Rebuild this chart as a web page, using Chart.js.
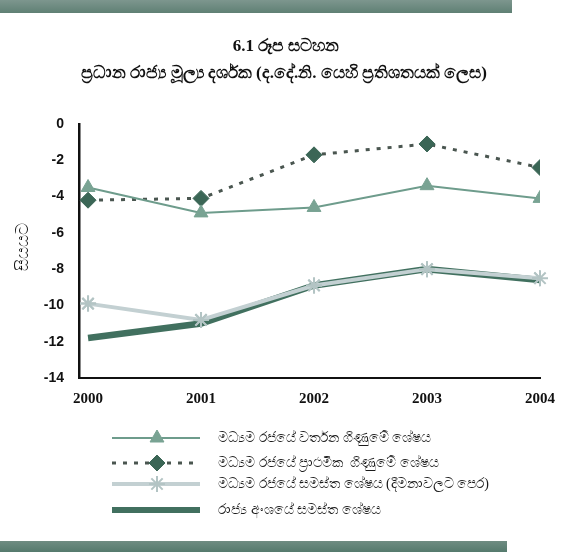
<!DOCTYPE html>
<html>
<head>
<meta charset="utf-8">
<script src="https://cdn.jsdelivr.net/npm/chart.js@4/dist/chart.umd.min.js"></script>
<style>
  html, body { margin: 0; padding: 0; background: #fff; }
  #wrap { width: 570px; height: 554px; position: relative; }
</style>
</head>
<body>
<div id="wrap"><canvas id="c" width="570" height="554"></canvas></div>
<script>
// Fiscal indicators, per cent of GDP
const years = [2000, 2001, 2002, 2003, 2004];
const currentAccount = [-3.5, -4.9, -4.6, -3.4, -4.1];
const primaryBalance = [-4.2, -4.1, -1.7, -1.1, -2.4];
const overallBeforeGrants = [-9.9, -10.8, -8.9, -8.0, -8.5];
const publicSectorOverall = [-11.8, -11.0, -8.9, -8.0, -8.6];
const yTicks = [0, -2, -4, -6, -8, -10, -12, -14];

const titleLine1 = '6.1 රූප සටහන';
const titleLine2 = 'ප්‍රධාන රාජ්‍ය මූල්‍ය දර්ශක (ද.දේ.නි. යෙහි ප්‍රතිශතයක් ලෙස)';
const yTitle = 'සියයට';
const seriesNames = [
  'මධ්‍යම රජයේ වර්තන ගිණුමේ ශේෂය',
  'මධ්‍යම රජයේ ප්‍රාථමික  ගිණුමේ ශේෂය',
  'මධ්‍යම රජයේ සමස්ත ශේෂය (දීමනාවලට පෙර)',
  'රාජ්‍ය අංශයේ සමස්ත ශේෂය'
];

const pts = vals => years.map((y, i) => ({ x: y, y: vals[i] }));
const SERIF = '"Liberation Serif", "DejaVu Serif", serif';
const SANS = '"Liberation Sans", Arial, sans-serif';

function marker(ctx, ds, x, y) {
  ctx.save();
  ctx.fillStyle = ds.pointBackgroundColor;
  ctx.strokeStyle = ds.pointBorderColor;
  ctx.lineWidth = ds.pointBorderWidth || 1;
  Chart.helpers.drawPoint(ctx, {
    pointStyle: ds.pointStyle, radius: ds.pointRadius,
    borderWidth: ds.pointBorderWidth || 1, rotation: 0
  }, x, y);
  ctx.restore();
}

const decor = {
  id: 'decor',
  beforeDraw(chart) {
    const ctx = chart.ctx;
    ctx.save();
    ctx.fillStyle = '#fff';
    ctx.fillRect(0, 0, chart.width, chart.height);
    // header / footer bands
    const g1 = ctx.createLinearGradient(0, 0, 0, 13);
    g1.addColorStop(0, '#7d968e'); g1.addColorStop(1, '#5f8074');
    ctx.fillStyle = g1; ctx.fillRect(0, 0, 512, 13);
    const g2 = ctx.createLinearGradient(0, 541, 0, 552);
    g2.addColorStop(0, '#6f8c82'); g2.addColorStop(1, '#557a6d');
    ctx.fillStyle = g2; ctx.fillRect(0, 541, 507, 11);
    // title
    ctx.fillStyle = '#111';
    ctx.textAlign = 'center';
    ctx.textBaseline = 'middle';
    ctx.font = 'bold 17px ' + SERIF;
    ctx.fillText(titleLine1, 286, 47);
    ctx.font = 'bold 17px ' + SERIF;
    ctx.fillText(titleLine2, 284, 74);
    // y title
    ctx.save();
    ctx.translate(24, 247);
    ctx.rotate(-Math.PI / 2);
    ctx.font = '17px ' + SERIF;
    ctx.fillText(yTitle, 0, 0);
    ctx.restore();
    ctx.restore();
  },
  afterDatasetsDraw(chart) {
    // asterisk markers sit above the thick public-sector line
    const meta = chart.getDatasetMeta(2);
    meta.data.forEach(p => p.draw(chart.ctx, chart.chartArea));
    // legend
    const ctx = chart.ctx;
    ctx.save();
    const rows = [438, 463, 484, 510];
    const x0 = 112, x1 = 200, xm = 157;
    chart.data.datasets.forEach((ds, i) => {
      const y = rows[i];
      ctx.save();
      ctx.strokeStyle = ds.borderColor;
      ctx.lineWidth = i === 3 ? 6 : (i === 2 ? 4 : ds.borderWidth);
      ctx.setLineDash(ds.borderDash || []);
      ctx.beginPath(); ctx.moveTo(x0, y); ctx.lineTo(x1, y); ctx.stroke();
      ctx.restore();
      if (ds.pointRadius > 0) marker(ctx, ds, xm, y);
      ctx.fillStyle = '#1a1a1a';
      ctx.font = '14px ' + SERIF;
      ctx.textAlign = 'left';
      ctx.textBaseline = 'middle';
      ctx.fillText(seriesNames[i], 218, y);
    });
    ctx.restore();
  }
};

new Chart(document.getElementById('c'), {
  type: 'line',
  data: {
    datasets: [
      {
        label: seriesNames[0], data: pts(currentAccount),
        borderColor: '#6e9c8c', borderWidth: 2,
        pointStyle: 'triangle', pointRadius: 8,
        pointBackgroundColor: '#79a393', pointBorderColor: '#79a393', pointBorderWidth: 1
      },
      {
        label: seriesNames[1], data: pts(primaryBalance),
        borderColor: '#4a5650', borderWidth: 3, borderDash: [4, 7],
        pointStyle: 'rectRot', pointRadius: 8,
        pointBackgroundColor: '#3b6656', pointBorderColor: '#3b6656', pointBorderWidth: 1
      },
      {
        label: seriesNames[2], data: pts(overallBeforeGrants),
        borderColor: '#c3d0d2', borderWidth: 4,
        pointStyle: 'star', pointRadius: 8,
        pointBackgroundColor: '#b9c9c9', pointBorderColor: '#b3c4c4', pointBorderWidth: 2
      },
      {
        label: seriesNames[3], data: pts(publicSectorOverall),
        borderColor: '#41705f', borderWidth: 6.5,
        pointRadius: 0
      }
    ]
  },
  options: {
    responsive: false,
    animation: false,
    events: [],
    layout: { padding: { top: 124, right: 30, left: 0, bottom: 0 } },
    plugins: { legend: { display: false }, title: { display: false }, tooltip: { enabled: false } },
    elements: { line: { tension: 0 } },
    scales: {
      x: {
        type: 'linear', min: 1999.92, max: 2004,
        afterBuildTicks: s => { s.ticks = years.map(v => ({ value: v })); },
        afterFit: s => { s.height = 176; },
        grid: { display: false, drawTicks: false },
        border: { display: true, color: '#111', width: 2 },
        ticks: {
          padding: 12, color: '#111',
          font: { family: SERIF, size: 15, weight: 'bold' },
          callback: v => String(v)
        }
      },
      y: {
        min: -14, max: 0,
        afterBuildTicks: s => { s.ticks = yTicks.map(v => ({ value: v })); },
        afterFit: s => { s.width = 79; },
        grid: { display: false, drawTicks: false },
        border: { display: true, color: '#111', width: 2.5 },
        ticks: {
          padding: 15, color: '#111',
          font: { family: SANS, size: 14, weight: 'bold' }
        }
      }
    }
  },
  plugins: [decor]
});
</script>
</body>
</html>
